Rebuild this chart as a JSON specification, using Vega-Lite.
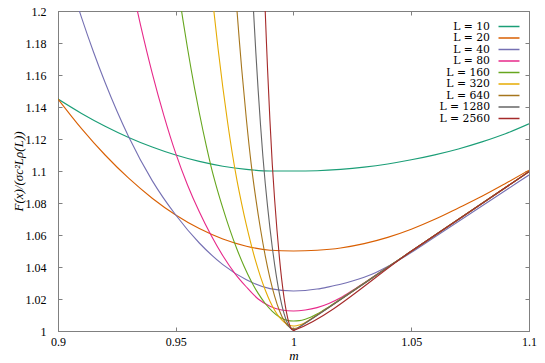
{
  "$schema": "https://vega.github.io/schema/vega-lite/v6.json",
  "width": 471,
  "height": 320,
  "autosize": {"type": "none"},
  "padding": {"left": 58, "top": 11, "right": 16, "bottom": 32},
  "background": "white",
  "config": {"view": {"stroke": "#808080", "strokeWidth": 1}, "font": "Liberation Serif"},
  "data": {"values": [
    {"L":10,"m":0.90,"F":1.1450},{"L":10,"m":0.91,"F":1.1360},{"L":10,"m":0.92,"F":1.1280},{"L":10,"m":0.93,"F":1.1210},{"L":10,"m":0.94,"F":1.1150},{"L":10,"m":0.95,"F":1.1100},{"L":10,"m":0.96,"F":1.1060},{"L":10,"m":0.97,"F":1.1030},{"L":10,"m":0.98,"F":1.1010},{"L":10,"m":0.99,"F":1.1000},{"L":10,"m":1.00,"F":1.1000},{"L":10,"m":1.01,"F":1.1002},{"L":10,"m":1.02,"F":1.1010},{"L":10,"m":1.03,"F":1.1024},{"L":10,"m":1.04,"F":1.1044},{"L":10,"m":1.05,"F":1.1070},{"L":10,"m":1.06,"F":1.1101},{"L":10,"m":1.07,"F":1.1138},{"L":10,"m":1.08,"F":1.1182},{"L":10,"m":1.09,"F":1.1233},{"L":10,"m":1.10,"F":1.1295},
    {"L":20,"m":0.90,"F":1.1450},{"L":20,"m":0.91,"F":1.1265},{"L":20,"m":0.92,"F":1.1100},{"L":20,"m":0.93,"F":1.0955},{"L":20,"m":0.94,"F":1.0830},{"L":20,"m":0.95,"F":1.0725},{"L":20,"m":0.96,"F":1.0640},{"L":20,"m":0.97,"F":1.0575},{"L":20,"m":0.98,"F":1.0530},{"L":20,"m":0.99,"F":1.0505},{"L":20,"m":1.00,"F":1.0500},{"L":20,"m":1.01,"F":1.0505},{"L":20,"m":1.02,"F":1.0519},{"L":20,"m":1.03,"F":1.0546},{"L":20,"m":1.04,"F":1.0585},{"L":20,"m":1.05,"F":1.0636},{"L":20,"m":1.06,"F":1.0698},{"L":20,"m":1.07,"F":1.0769},{"L":20,"m":1.08,"F":1.0842},{"L":20,"m":1.09,"F":1.0922},{"L":20,"m":1.10,"F":1.1005},
    {"L":40,"m":0.900,"F":1.2430},{"L":40,"m":0.905,"F":1.2188},{"L":40,"m":0.910,"F":1.1959},{"L":40,"m":0.915,"F":1.1747},{"L":40,"m":0.920,"F":1.1553},{"L":40,"m":0.930,"F":1.1214},{"L":40,"m":0.940,"F":1.0940},{"L":40,"m":0.950,"F":1.0725},{"L":40,"m":0.960,"F":1.0550},{"L":40,"m":0.970,"F":1.0415},{"L":40,"m":0.980,"F":1.0320},{"L":40,"m":0.990,"F":1.0265},{"L":40,"m":1.000,"F":1.0250},{"L":40,"m":1.005,"F":1.0253},{"L":40,"m":1.010,"F":1.0262},{"L":40,"m":1.015,"F":1.0276},{"L":40,"m":1.020,"F":1.0292},{"L":40,"m":1.025,"F":1.0312},{"L":40,"m":1.030,"F":1.0336},{"L":40,"m":1.035,"F":1.0366},{"L":40,"m":1.040,"F":1.0403},{"L":40,"m":1.045,"F":1.0445},{"L":40,"m":1.050,"F":1.0490},{"L":40,"m":1.060,"F":1.0587},{"L":40,"m":1.070,"F":1.0684},{"L":40,"m":1.080,"F":1.0781},{"L":40,"m":1.090,"F":1.0878},{"L":40,"m":1.100,"F":1.0975},
    {"L":80,"m":0.930,"F":1.2246},{"L":80,"m":0.935,"F":1.1915},{"L":80,"m":0.940,"F":1.1612},{"L":80,"m":0.945,"F":1.1345},{"L":80,"m":0.950,"F":1.1110},{"L":80,"m":0.955,"F":1.0913},{"L":80,"m":0.960,"F":1.0745},{"L":80,"m":0.965,"F":1.0598},{"L":80,"m":0.970,"F":1.0470},{"L":80,"m":0.975,"F":1.0362},{"L":80,"m":0.980,"F":1.0275},{"L":80,"m":0.985,"F":1.0200},{"L":80,"m":0.990,"F":1.0155},{"L":80,"m":0.995,"F":1.0131},{"L":80,"m":1.000,"F":1.0125},{"L":80,"m":1.005,"F":1.0131},{"L":80,"m":1.010,"F":1.0146},{"L":80,"m":1.015,"F":1.0172},{"L":80,"m":1.020,"F":1.0208},{"L":80,"m":1.025,"F":1.0253},{"L":80,"m":1.030,"F":1.0301},{"L":80,"m":1.040,"F":1.0399},{"L":80,"m":1.050,"F":1.0498},{"L":80,"m":1.100,"F":1.0996},
    {"L":160,"m":0.951,"F":1.2143},{"L":160,"m":0.953,"F":1.1949},{"L":160,"m":0.955,"F":1.1767},{"L":160,"m":0.958,"F":1.1516},{"L":160,"m":0.960,"F":1.1364},{"L":160,"m":0.963,"F":1.1155},{"L":160,"m":0.965,"F":1.1028},{"L":160,"m":0.967,"F":1.0917},{"L":160,"m":0.970,"F":1.0768},{"L":160,"m":0.973,"F":1.0632},{"L":160,"m":0.976,"F":1.0511},{"L":160,"m":0.979,"F":1.0405},{"L":160,"m":0.982,"F":1.0313},{"L":160,"m":0.985,"F":1.0235},{"L":160,"m":0.988,"F":1.0172},{"L":160,"m":0.991,"F":1.0123},{"L":160,"m":0.994,"F":1.0088},{"L":160,"m":0.997,"F":1.0068},{"L":160,"m":1.000,"F":1.00625},{"L":160,"m":1.0025,"F":1.0065},{"L":160,"m":1.005,"F":1.0074},{"L":160,"m":1.0075,"F":1.0087},{"L":160,"m":1.010,"F":1.0106},{"L":160,"m":1.0125,"F":1.0128},{"L":160,"m":1.015,"F":1.0151},{"L":160,"m":1.020,"F":1.0200},{"L":160,"m":1.050,"F":1.0498},{"L":160,"m":1.100,"F":1.0996},
    {"L":320,"m":0.965,"F":1.2165},{"L":320,"m":0.966,"F":1.2024},{"L":320,"m":0.968,"F":1.1761},{"L":320,"m":0.970,"F":1.1522},{"L":320,"m":0.972,"F":1.1306},{"L":320,"m":0.974,"F":1.1111},{"L":320,"m":0.976,"F":1.0941},{"L":320,"m":0.978,"F":1.0795},{"L":320,"m":0.980,"F":1.0661},{"L":320,"m":0.982,"F":1.0541},{"L":320,"m":0.984,"F":1.0433},{"L":320,"m":0.986,"F":1.0338},{"L":320,"m":0.988,"F":1.0256},{"L":320,"m":0.990,"F":1.0186},{"L":320,"m":0.992,"F":1.0130},{"L":320,"m":0.994,"F":1.0086},{"L":320,"m":0.996,"F":1.0055},{"L":320,"m":0.998,"F":1.0037},{"L":320,"m":1.000,"F":1.0031},{"L":320,"m":1.00125,"F":1.0033},{"L":320,"m":1.0025,"F":1.0037},{"L":320,"m":1.005,"F":1.0053},{"L":320,"m":1.010,"F":1.0100},{"L":320,"m":1.050,"F":1.0498},{"L":320,"m":1.100,"F":1.0996},
    {"L":640,"m":0.975,"F":1.2203},{"L":640,"m":0.976,"F":1.2003},{"L":640,"m":0.977,"F":1.1815},{"L":640,"m":0.978,"F":1.1639},{"L":640,"m":0.980,"F":1.1322},{"L":640,"m":0.982,"F":1.1048},{"L":640,"m":0.984,"F":1.0827},{"L":640,"m":0.986,"F":1.0636},{"L":640,"m":0.988,"F":1.0470},{"L":640,"m":0.990,"F":1.0331},{"L":640,"m":0.992,"F":1.0216},{"L":640,"m":0.994,"F":1.0128},{"L":640,"m":0.996,"F":1.0065},{"L":640,"m":0.998,"F":1.0027},{"L":640,"m":0.999,"F":1.0018},{"L":640,"m":1.000,"F":1.0016},{"L":640,"m":1.001,"F":1.0017},{"L":640,"m":1.0025,"F":1.0026},{"L":640,"m":1.005,"F":1.0050},{"L":640,"m":1.050,"F":1.0498},{"L":640,"m":1.100,"F":1.0996},
    {"L":1280,"m":0.982,"F":1.2279},{"L":1280,"m":0.983,"F":1.2006},{"L":1280,"m":0.984,"F":1.1743},{"L":1280,"m":0.985,"F":1.1504},{"L":1280,"m":0.986,"F":1.1287},{"L":1280,"m":0.987,"F":1.1092},{"L":1280,"m":0.988,"F":1.0923},{"L":1280,"m":0.989,"F":1.0777},{"L":1280,"m":0.990,"F":1.0643},{"L":1280,"m":0.991,"F":1.0522},{"L":1280,"m":0.992,"F":1.0413},{"L":1280,"m":0.993,"F":1.0318},{"L":1280,"m":0.994,"F":1.0235},{"L":1280,"m":0.995,"F":1.0165},{"L":1280,"m":0.996,"F":1.0108},{"L":1280,"m":0.997,"F":1.0064},{"L":1280,"m":0.998,"F":1.0032},{"L":1280,"m":0.999,"F":1.0014},{"L":1280,"m":1.000,"F":1.0008},{"L":1280,"m":1.0005,"F":1.0009},{"L":1280,"m":1.00125,"F":1.0013},{"L":1280,"m":1.0025,"F":1.0025},{"L":1280,"m":1.050,"F":1.0498},{"L":1280,"m":1.100,"F":1.0996},
    {"L":2560,"m":0.9875,"F":1.2198},{"L":2560,"m":0.988,"F":1.1996},{"L":2560,"m":0.9885,"F":1.1808},{"L":2560,"m":0.989,"F":1.1632},{"L":2560,"m":0.990,"F":1.1315},{"L":2560,"m":0.991,"F":1.1040},{"L":2560,"m":0.992,"F":1.0819},{"L":2560,"m":0.993,"F":1.0628},{"L":2560,"m":0.994,"F":1.0462},{"L":2560,"m":0.995,"F":1.0321},{"L":2560,"m":0.996,"F":1.0207},{"L":2560,"m":0.997,"F":1.0118},{"L":2560,"m":0.998,"F":1.0054},{"L":2560,"m":0.9985,"F":1.0032},{"L":2560,"m":0.999,"F":1.0016},{"L":2560,"m":0.9995,"F":1.0007},{"L":2560,"m":1.000,"F":1.0004},{"L":2560,"m":1.00025,"F":1.0004},{"L":2560,"m":1.0006,"F":1.0006},{"L":2560,"m":1.050,"F":1.0498},{"L":2560,"m":1.100,"F":1.0996}
  ]},
  "layer": [
    {
      "mark": {"type": "line", "clip": true, "interpolate": "monotone", "strokeWidth": 1.1},
      "encoding": {
        "x": {"field": "m", "type": "quantitative",
          "scale": {"domain": [0.9, 1.1], "nice": false, "zero": false},
          "axis": {"values": [0.9, 0.95, 1, 1.05, 1.1], "format": "~g", "grid": false, "labelFlush": false,
            "tickSize": -4, "tickColor": "#808080", "domainColor": "#808080",
            "labelFont": "Liberation Serif", "labelFontSize": 12, "labelFontWeight": "normal", "labelColor": "black", "labelPadding": 9,
            "title": "m", "titleFont": "Liberation Serif", "titleFontStyle": "italic", "titleFontWeight": "normal", "titleFontSize": 13, "titleColor": "black", "titlePadding": 2}},
        "y": {"field": "F", "type": "quantitative",
          "scale": {"domain": [1, 1.2], "nice": false, "zero": false},
          "axis": {"values": [1, 1.02, 1.04, 1.06, 1.08, 1.1, 1.12, 1.14, 1.16, 1.18, 1.2], "format": "~g", "grid": false, "labelFlush": false,
            "tickSize": -4, "tickColor": "#808080", "domainColor": "#808080",
            "labelFont": "Liberation Serif", "labelFontSize": 12, "labelFontWeight": "normal", "labelColor": "black", "labelPadding": 16,
            "title": "F(x)/(σc²Lρ(L))", "titleFont": "Liberation Serif", "titleFontStyle": "italic", "titleFontWeight": "normal", "titleFontSize": 13, "titleColor": "black", "titlePadding": 0}},
        "color": {"field": "L", "type": "ordinal",
          "scale": {"domain": [10, 20, 40, 80, 160, 320, 640, 1280, 2560],
            "range": ["#1b9e77", "#d95f02", "#7570b3", "#e7298a", "#66a61e", "#e6ab02", "#a6761d", "#666666", "#a52a2a"]},
          "legend": {"orient": "none", "legendX": 445, "legendY": 9.5, "title": null, "padding": 0,
            "symbolType": "M-2,0H2", "symbolSize": 110, "symbolStrokeWidth": 1.5,
            "labelAlign": "right", "labelOffset": -25, "labelFont": "DejaVu Serif", "labelFontSize": 10.8, "labelFontWeight": "normal", "labelColor": "black",
            "rowPadding": 0.5, "labelExpr": "'L = ' + datum.label"}}
      }
    },
    {
      "mark": {"type": "point", "opacity": 0},
      "encoding": {
        "x": {"field": "m", "type": "quantitative",
          "axis": {"orient": "top", "values": [0.9, 0.95, 1, 1.05, 1.1], "labels": false, "title": null, "grid": false,
            "tickSize": -4, "tickColor": "#808080", "domainColor": "#808080"}},
        "y": {"field": "F", "type": "quantitative",
          "axis": {"orient": "right", "values": [1, 1.02, 1.04, 1.06, 1.08, 1.1, 1.12, 1.14, 1.16, 1.18, 1.2], "labels": false, "title": null, "grid": false,
            "tickSize": -4, "tickColor": "#808080", "domainColor": "#808080"}}
      }
    }
  ],
  "resolve": {"axis": {"x": "independent", "y": "independent"}}
}
